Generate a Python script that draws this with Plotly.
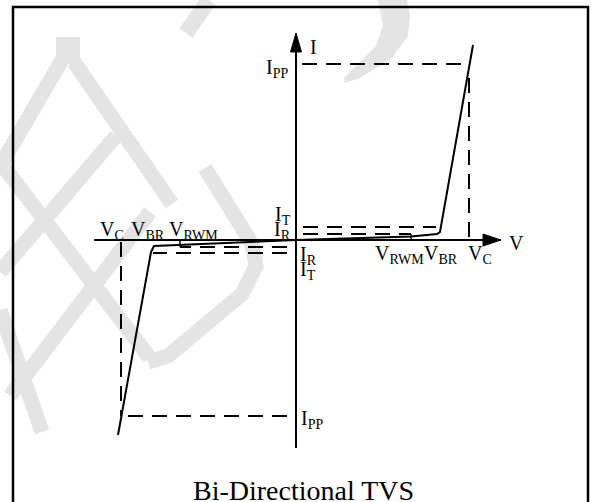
import plotly.graph_objects as go

# ---------------- data (schematic units; origin at axis crossing) ----------------
# positive quadrant
V_pos = {"V_RWM": 115, "V_BR": 144, "V_C": 173}
I_pos = {"I_R": 6, "I_T": 13, "I_PP": 176}
# negative quadrant
V_neg = {"V_RWM": -116, "V_BR": -145, "V_C": -175}
I_neg = {"I_R": -7, "I_T": -13, "I_PP": -176}

curve_v_pos = [0, 115, 141, 144, 177]
curve_i_pos = [0, 3.5, 6, 8, 195]
curve_v_neg = [0, -116, -142, -145, -178]
curve_i_neg = [0, -5, -6, -12, -195]

axis_v_range = [-202, 205]
axis_i_range = [-208, 207]

title_text = "Bi-Directional TVS"

# ---------------- figure ----------------
W, H = 594, 502
OX, OY = 296, 240  # pixel of origin
def px(x, y):
    return x - OX, OY - y

fig = go.Figure()
BLACK = "black"
DASH = "15px,9px"

# watermark (decorative light-grey strokes)
WM = "rgb(228,228,228)"
wm_strokes = [
    ([(68, 37), (68, 64)], 24),
    ([(62, 60), (0, 166)], 15),
    ([(74, 62), (172, 204)], 15),
    ([(116, 136), (0, 272)], 15),
    ([(0, 162), (150, 358)], 15),
    ([(150, 212), (10, 396)], 15),
    ([(0, 310), (42, 432)], 15),
    ([(205, 168), (252, 244), (256, 266), (242, 294), (168, 356), (148, 362)], 15),
    ([(209, 0), (186, 33)], 16),
]
for pts, w in wm_strokes:
    d = "M " + " L ".join(f"{px(x, y)[0]},{px(x, y)[1]}" for x, y in pts)
    fig.add_shape(type="path", path=d, line=dict(color=WM, width=w), layer="below")
cres = [(378, 0), (383, 25), (376, 46), (344, 78), (345, 83), (360, 78),
        (392, 58), (408, 36), (410, 14), (407, 0)]
d = "M " + " L ".join(f"{px(x, y)[0]},{px(x, y)[1]}" for x, y in cres) + " Z"
fig.add_shape(type="path", path=d, fillcolor=WM, line=dict(width=0), layer="below")

# frame
fig.add_shape(type="rect", x0=px(13, 0)[0], x1=px(588, 0)[0], y0=px(0, 7)[1], y1=px(0, 520)[1],
              line=dict(color=BLACK, width=2.5))

def line(xs, ys, dash=None, width=2):
    fig.add_trace(go.Scatter(x=xs, y=ys, mode="lines", hoverinfo="skip",
                             line=dict(color=BLACK, width=width, dash=dash)))

# axes
line(axis_v_range, [0, 0], width=2)
line([0, 0], axis_i_range, width=2)
# arrowheads
ta = axis_i_range[1]
fig.add_trace(go.Scatter(x=[-5.5, 0, 5.5, -5.5], y=[ta - 19, ta, ta - 19, ta - 19], mode="lines",
                         fill="toself", fillcolor=BLACK, line=dict(color=BLACK, width=1), hoverinfo="skip"))
tv = axis_v_range[1]
fig.add_trace(go.Scatter(x=[tv - 18, tv, tv - 18, tv - 18], y=[6, 0, -6, 6], mode="lines",
                         fill="toself", fillcolor=BLACK, line=dict(color=BLACK, width=1), hoverinfo="skip"))

# dashed reference lines (positive)
line([6, V_pos["V_C"] - 2], [I_pos["I_PP"]] * 2, DASH)
line([V_pos["V_C"]] * 2, [I_pos["I_PP"] - 14, 0], DASH)
line([7, V_pos["V_BR"] - 4], [I_pos["I_T"]] * 2, DASH)
line([7, V_pos["V_RWM"]], [I_pos["I_R"]] * 2, DASH)
line([V_pos["V_RWM"]] * 2, [0, I_pos["I_R"]], width=1.5)
# dashed reference lines (negative)
line([-9, V_neg["V_C"] + 2], [I_neg["I_PP"]] * 2, DASH)
line([V_neg["V_C"]] * 2, [-2, I_neg["I_PP"]], DASH)
line([-9, V_neg["V_BR"] + 2], [I_neg["I_T"]] * 2, DASH)
line([-9, V_neg["V_RWM"]], [I_neg["I_R"]] * 2, DASH)
line([V_neg["V_RWM"]] * 2, [-1, I_neg["I_R"]], width=1.5)

# I-V curve
line(curve_v_pos, curve_i_pos, width=2)
line(curve_v_neg, curve_i_neg, width=2)

# labels
FONT = "Liberation Serif"
def label(txt, x, y, size=20, xanchor="center"):
    fig.add_annotation(x=x, y=y, text=txt, showarrow=False, xanchor=xanchor, yanchor="middle",
                       font=dict(family=FONT, size=size, color=BLACK))

label("I", 17, 193)
label("V", 220, -3)
label("I<sub>PP</sub>", -6, 172, xanchor="right")
label("I<sub>PP</sub>", 3, -179, xanchor="left")
label("I<sub>T</sub>", -3, 25, xanchor="right")
label("I<sub>R</sub>", -3, 10, xanchor="right")
label("I<sub>R</sub>", 2, -15, xanchor="left")
label("I<sub>T</sub>", 2, -30, xanchor="left")
label("V<sub>C</sub>", V_neg["V_C"] - 9, 10)
label("V<sub>BR</sub>", V_neg["V_BR"] - 3, 10)
label("V<sub>RWM</sub>", V_neg["V_RWM"] + 13, 10)
label("V<sub>RWM</sub>", V_pos["V_RWM"] - 12, -14)
label("V<sub>BR</sub>", V_pos["V_BR"] + 1, -14)
label("V<sub>C</sub>", V_pos["V_C"] + 11, -14)
label(title_text, px(303, 0)[0], px(0, 490)[1], size=28)

fig.update_layout(
    width=W, height=H, margin=dict(l=0, r=0, t=0, b=0),
    paper_bgcolor="white", plot_bgcolor="white", showlegend=False,
    xaxis=dict(range=[-OX, W - OX], visible=False, fixedrange=True),
    yaxis=dict(range=[OY - H, OY], visible=False, fixedrange=True),
)
fig.write_html("out.html", config={"displayModeBar": False},
               post_script="document.body.style.margin='0';document.body.style.overflow='hidden';")
